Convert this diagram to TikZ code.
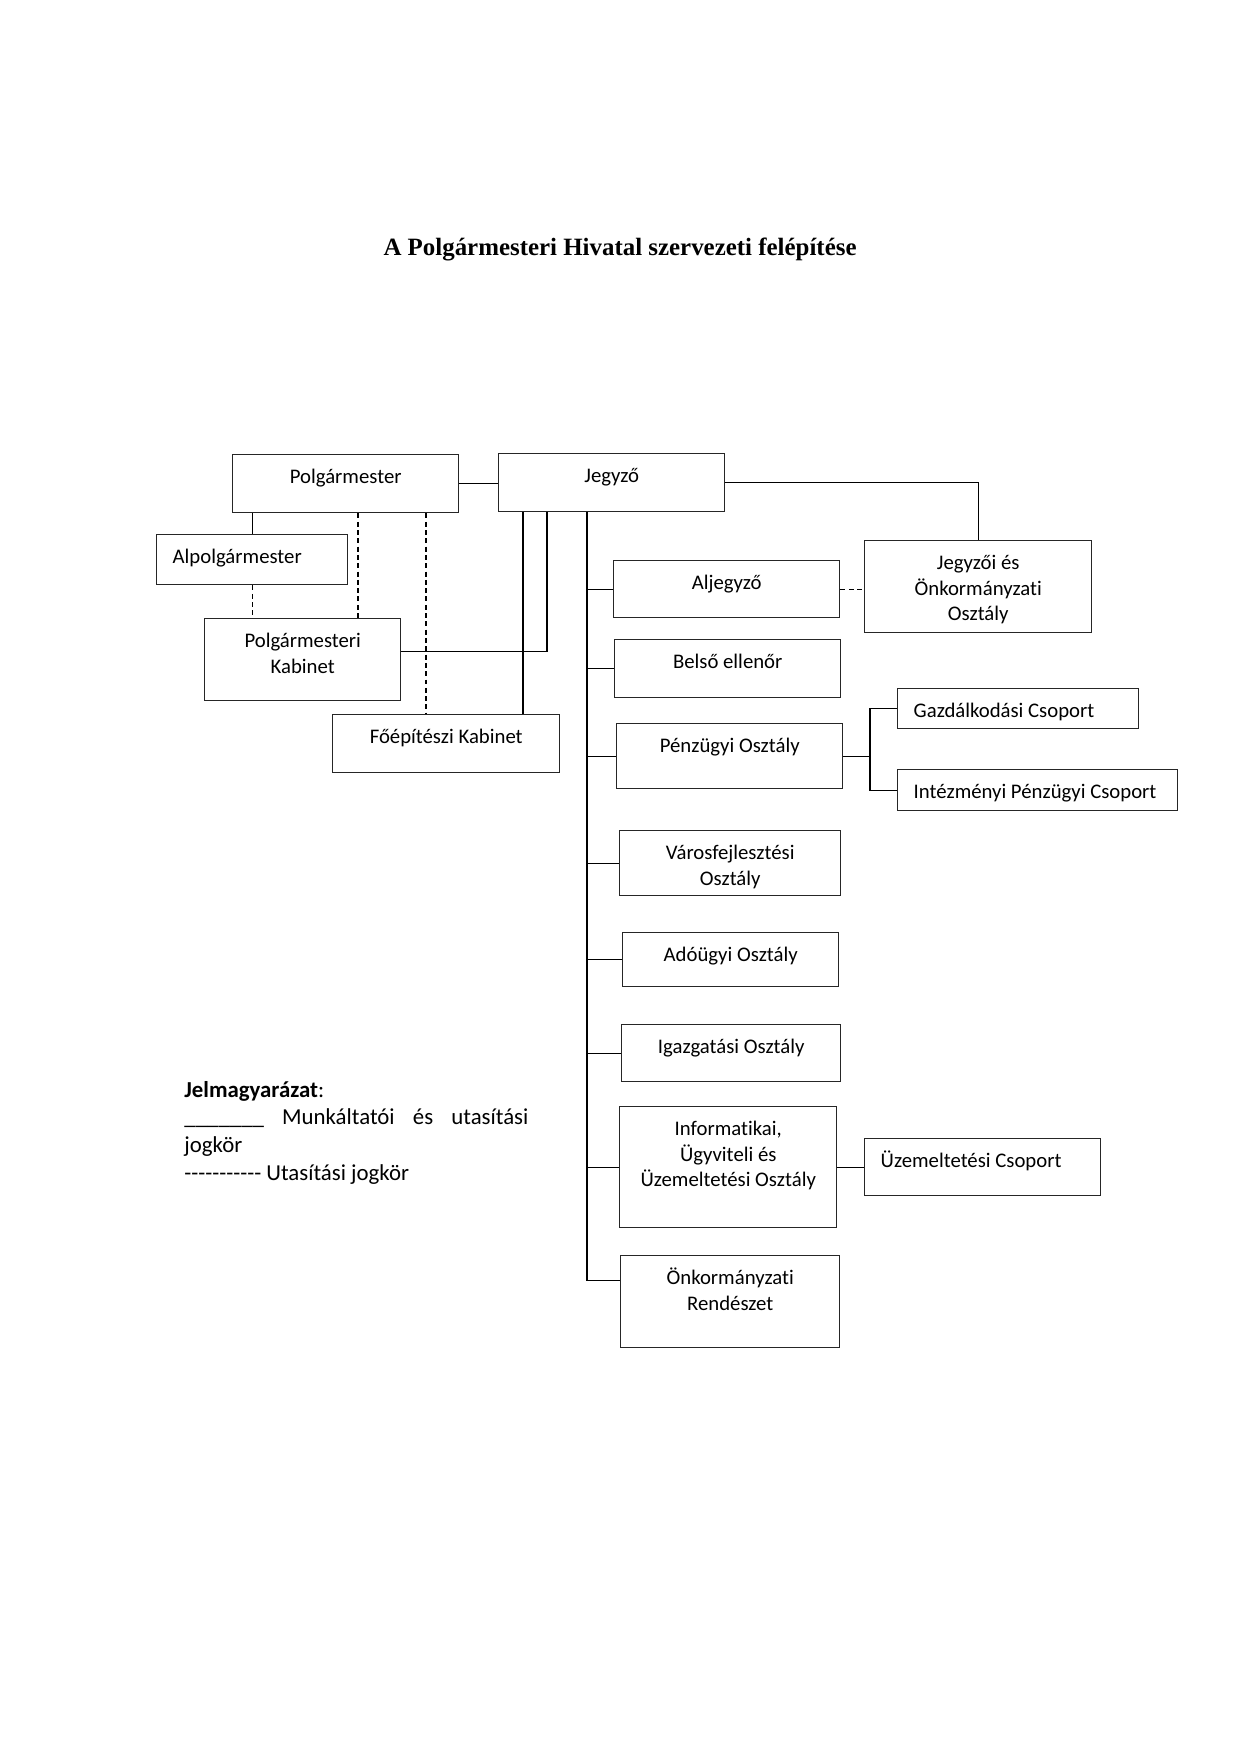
\documentclass[tikz,border=0pt]{standalone}
\usepackage{fontspec}
\setmainfont{Carlito}[Ligatures=NoCommon]
\newfontfamily\titlefont{Liberation Serif}
\usetikzlibrary{positioning}
\newdimen\pxu \pxu=0.16934mm
\newcommand\boxfont{\fontsize{10}{12.2}\selectfont}
\newcommand\legendfont{\fontsize{11}{13.4}\selectfont}
\newcommand\legenddash{\mbox{-}\mbox{-}\mbox{-}\mbox{-}\mbox{-}\mbox{-}\mbox{-}\mbox{-}\mbox{-}\mbox{-}\mbox{-}}
\begin{document}
\begin{tikzpicture}[x=0.16934mm, y=-0.16934mm]

		\tikzset{
			orgbox/.style 2 args={draw=black!85, line width=0.7pt, anchor=north west, inner xsep=4*\pxu, inner ysep=0pt, text width={(#1-8)*\pxu}, text height=14pt, text depth={#2*\pxu-14pt}, align=flush center, font=\boxfont},
			orgboxl/.style 2 args={orgbox={#1}{#2}, inner xsep=16*\pxu, text width={(#1-32)*\pxu}, align=flush left},
			link/.style={draw=black, line width=0.6pt},
			dashlink/.style={link, dash pattern=on 2.4pt off 1.6pt}
		}

		\useasboundingbox (0,0) rectangle (1240,1754);

		\node[anchor=base, font=\titlefont\bfseries\fontsize{12}{14}\selectfont] (title) at (620,255) {A Polgármesteri Hivatal szervezeti felépítése};

		% vezetés
		\node[orgbox={226}{58}] (polg) at (232,454) {Polgármester};
		\node[orgbox={226}{58}] (jegyzo) at (498,453) {Jegyző};
		\node[orgboxl={191}{50}] (alpol) at (156,534) {Alpolgármester};
		\node[orgbox={196}{82}] (kab) at (204,618) {Polgármesteri\\Kabinet};
		\node[orgbox={227}{58}] (foep) at (332,714) {Főépítészi Kabinet};
		\node[orgbox={227}{92}] (jo) at (864,540) {Jegyzői és\\Önkormányzati\\Osztály};

		% osztályok
		\node[orgbox={226}{57}] (aljegyzo) at (613,560) {Aljegyző};
		\node[orgbox={226}{58}] (belso) at (614,639) {Belső ellenőr};
		\node[orgbox={226}{65}] (penz) at (616,723) {Pénzügyi Osztály};
		\node[orgboxl={241}{40}] (gazd) at (897,688) {Gazdálkodási Csoport};
		\node[orgboxl={280}{41}] (intez) at (897,769) {Intézményi Pénzügyi Csoport};
		\node[orgbox={221}{65}] (varos) at (619,830) {Városfejlesztési\\Osztály};
		\node[orgbox={216}{54}] (ado) at (622,932) {Adóügyi Osztály};
		\node[orgbox={219}{57}] (igaz) at (621,1024) {Igazgatási Osztály};
		\node[orgbox={217}{121}] (info) at (619,1106) {Informatikai,\\Ügyviteli és\\Üzemeltetési Osztály};
		\node[orgboxl={236}{57}] (uzem) at (864,1138) {Üzemeltetési Csoport};
		\node[orgbox={219}{92}] (rend) at (620,1255) {Önkormányzati\\Rendészet};

		% jelmagyarázat
		\node[anchor=base west, inner sep=0pt, text width=344*\pxu, align=flush left, font=\legendfont] (legend) at (184,1097) {\textbf{Jelmagyarázat}:\\
			\makebox[\linewidth][s]{\textunderscore\textunderscore\textunderscore\textunderscore\textunderscore\textunderscore\textunderscore\ Munkáltatói és utasítási}\\
			jogkör\\
			\legenddash{} Utasítási jogkör};

		\coordinate (trunk) at (587,0);
		\coordinate (dropkab) at (358,0);
		\coordinate (dropfoep) at (426,0);
		\coordinate (jfoep) at (523,0);
		\coordinate (jkab) at (547,0);
		\coordinate (fork) at (870,0);

		\draw[link] (polg.east) -- (polg.east -| jegyzo.west);
		\draw[link] (polg.south -| alpol.north) -- (alpol.north);
		\draw[dashlink] (alpol.south) -- (alpol.south |- kab.north);
		\draw[dashlink] (polg.south -| dropkab) -- (kab.north -| dropkab);
		\draw[dashlink] (polg.south -| dropfoep) -- (foep.north -| dropfoep);
		\draw[link] (jegyzo.south -| jfoep) -- (foep.north -| jfoep);
		\draw[link] (jegyzo.south -| jkab) |- ([yshift=1.35mm]kab.east);

		\draw[link] (jegyzo.east) -| (jo.north);
		\draw[dashlink] (aljegyzo.east) -- (aljegyzo.east -| jo.west);

		\draw[link] (jegyzo.south -| trunk) |- ([yshift=3.56mm]rend.west);
		\foreach \n in {aljegyzo,belso,penz,varos,ado,igaz,info}
			\draw[link] (\n.west -| trunk) -- (\n.west);

		\draw[link] (penz.east) -- (penz.east -| fork);
		\draw[link] (gazd.west) -| (fork |- intez.west) -- (intez.west);
		\draw[link] (info.east) -- (info.east -| uzem.west);

	\end{tikzpicture}
\end{document}
